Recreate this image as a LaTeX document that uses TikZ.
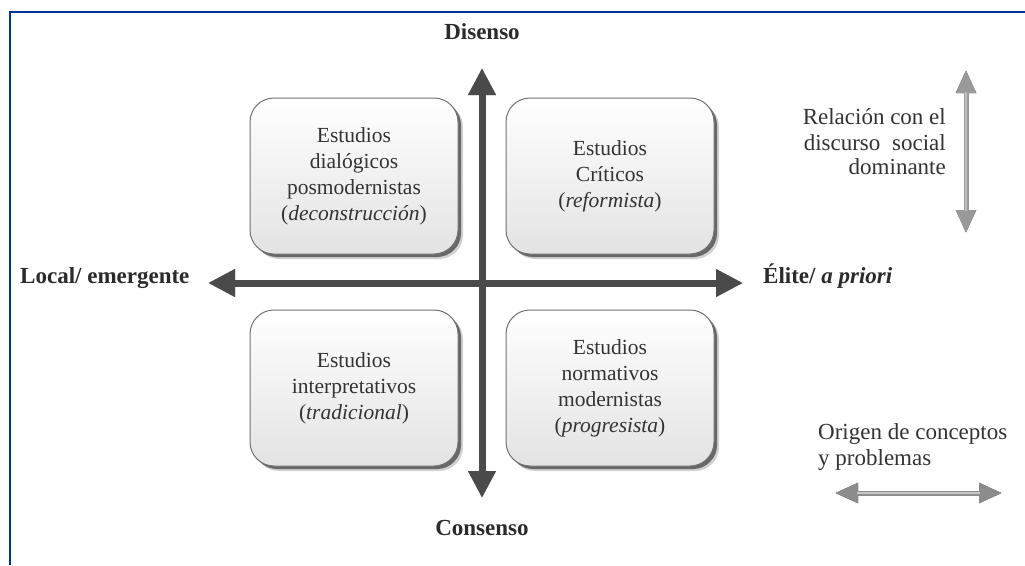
\documentclass[tikz,border=0pt]{standalone}
\usepackage{fontspec}
\setmainfont{Liberation Serif}
\usetikzlibrary{arrows.meta,shadows}
\definecolor{framec}{HTML}{003399}
\definecolor{txtc}{HTML}{333333}
\definecolor{labc}{HTML}{2B2B2B}
\definecolor{axc}{HTML}{4A4A4A}
\tikzset{
  quad/.style={rounded corners=24pt, draw=black!55, line width=1pt,
    top color=white, bottom color=black!11, minimum width=208pt, minimum height=156pt,
    align=center, text=txtc, font=\fontsize{21.5}{26}\selectfont,
    drop shadow={shadow xshift=5pt, shadow yshift=-5pt, fill=black, opacity=0.18},
    drop shadow={shadow xshift=3pt, shadow yshift=-3pt, fill=black, opacity=0.5}},
  lab/.style={text=labc, font=\fontsize{23}{26}\selectfont\bfseries, inner sep=0pt},
  side/.style={text=txtc, font=\fontsize{23}{26}\selectfont, inner sep=0pt},
  bigax/.style={line width=7pt, draw=axc,
    {Triangle[length=27pt,width=26pt]}-{Triangle[length=27pt,width=26pt]}},
  bigsh/.style={line width=7pt, draw=black!40,
    {Triangle[length=27pt,width=26pt]}-{Triangle[length=27pt,width=26pt]}},
  smax/.style={line width=5pt, draw=black!50,
    {Triangle[length=23pt,width=19pt]}-{Triangle[length=23pt,width=19pt]}},
  smsh/.style={line width=5pt, draw=black!80,
    {Triangle[length=23pt,width=19pt]}-{Triangle[length=23pt,width=19pt]}},
}
\begin{document}
\begin{tikzpicture}[x=1pt,y=-1pt]
\useasboundingbox (0,0) rectangle (1025,565);
\fill[white] (0,0) rectangle (1025,565);
% frame
\coordinate (f1) at (10,565);
\coordinate (f2) at (10,12);
\coordinate (f3) at (1025,12);
\draw[framec, line width=2.5pt] (f1) -- (f2) -- (f3);
% boxes
\node[quad] (tl) at (354,176) {Estudios\\dialógicos\\posmodernistas\\(\textit{deconstrucción})};
\node[quad] (tr) at (610,176) {Estudios\\Críticos\\(\textit{reformista})};
\node[quad] (bl) at (354,388) {Estudios\\interpretativos\\(\textit{tradicional})};
\node[quad] (br) at (610,388) {Estudios\\normativos\\modernistas\\(\textit{progresista})};
% axes
\coordinate (vt) at (482,68);
\coordinate (vb) at (482,498);
\coordinate (hl) at (208,283);
\coordinate (hr) at (743,283);
\draw[bigsh, xshift=2.5pt, yshift=-2.5pt] (vt) -- (vb);
\draw[bigsh, xshift=2.5pt, yshift=-2.5pt] (hl) -- (hr);
\draw[bigax] (vt) -- (vb);
\draw[bigax] (hl) -- (hr);
% axis labels
\node[lab, anchor=base] (dis) at (482,39) {Disenso};
\node[lab, anchor=base] (con) at (482,535) {Consenso};
\node[lab, anchor=base west] (loc) at (20,283) {Local/ emergente};
\node[lab, anchor=base west] (eli) at (763,283) {Élite/ \textit{a priori}};
% legend 1
\node[side, anchor=base east] (r1) at (946,124) {Relación con el};
\node[side, anchor=base east] (r2) at (946,150) {discurso\hspace{6pt} social};
\node[side, anchor=base east] (r3) at (946,174) {dominante};
\coordinate (st) at (966,70);
\coordinate (sb) at (966,233);
\draw[smsh, xshift=2pt, yshift=-2pt] (st) -- (sb);
\draw[smax, draw=black!40] (st) -- (sb);
\draw[line width=2pt, draw=black!25, shorten <=22pt, shorten >=22pt] (st) -- (sb);
% legend 2
\node[side, anchor=base west] (o1) at (818,439) {Origen de conceptos};
\node[side, anchor=base west] (o2) at (818,465) {y problemas};
\coordinate (sl) at (835,493);
\coordinate (sr) at (1002,493);
\draw[smsh, xshift=2pt, yshift=-2pt] (sl) -- (sr);
\draw[smax, draw=black!45] (sl) -- (sr);
\draw[line width=2pt, draw=black!22, shorten <=22pt, shorten >=22pt] (sl) -- (sr);
\end{tikzpicture}
\end{document}
